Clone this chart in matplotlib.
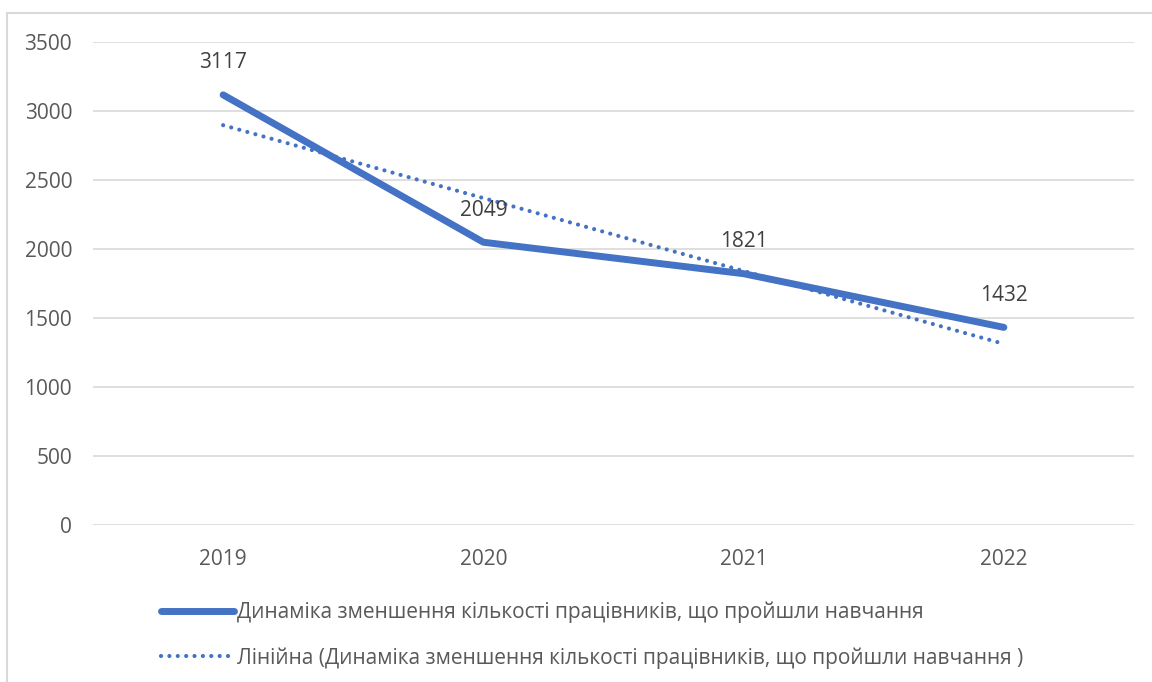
import numpy as np
import matplotlib.pyplot as plt
from matplotlib.patches import Rectangle

plt.rcParams['font.family'] = ['Open Sans', 'DejaVu Sans']

years = ['2019', '2020', '2021', '2022']
workers = [3117, 2049, 1821, 1432]
series_name = 'Динаміка зменшення кількості працівників, що пройшли навчання'
trend_name = 'Лінійна (Динаміка зменшення кількості працівників, що пройшли навчання )'
y_ticks = [0, 500, 1000, 1500, 2000, 2500, 3000, 3500]

blue = '#4472C4'
grey_txt = '#595959'
grid_c = '#D9D9D9'

fig = plt.figure(figsize=(11.52, 6.82), dpi=100)
ax = fig.add_axes([93/1152, 1-525/682, (1134-93)/1152, (525-42)/682])

x = np.arange(1, len(workers)+1)
ax.plot(x, workers, color=blue, lw=5, solid_capstyle='round', label=series_name, zorder=3)

# linear trendline (least squares, like Excel)
k, b = np.polyfit(x, workers, 1)
ax.plot(x, k*x + b, color=blue, lw=3, linestyle=(0, (0.01, 2)),
        dash_capstyle='round', label=trend_name, zorder=2)

for xi, v in zip(x, workers):
    ax.annotate(str(v), (xi, v), xytext=(0, 23), textcoords='offset points',
                ha='center', va='center', fontsize=15, color='#404040')

ax.set_xlim(0.5, 4.5)
ax.set_ylim(0, 3500)
ax.set_xticks(x)
ax.set_xticklabels(years)
ax.set_yticks(y_ticks)
ax.tick_params(length=0, labelsize=15, labelcolor=grey_txt)
ax.tick_params(axis='x', pad=17)
ax.tick_params(axis='y', pad=15)
ax.grid(axis='y', color=grid_c, lw=1.2)
ax.set_axisbelow(True)
for s in ax.spines.values():
    s.set_visible(False)

leg = fig.legend(loc='upper left', bbox_to_anchor=(142/1152, 1-583/682),
                 frameon=False, fontsize=15, handlelength=3.5, handletextpad=0.15,
                 labelspacing=1.15, labelcolor=grey_txt)

fig.patches.append(Rectangle((7/1152, -0.1), 1.2, 1-13/682+0.1, transform=fig.transFigure,
                             fill=False, edgecolor=grid_c, lw=1.5))

fig.savefig('out.png', dpi=100)
